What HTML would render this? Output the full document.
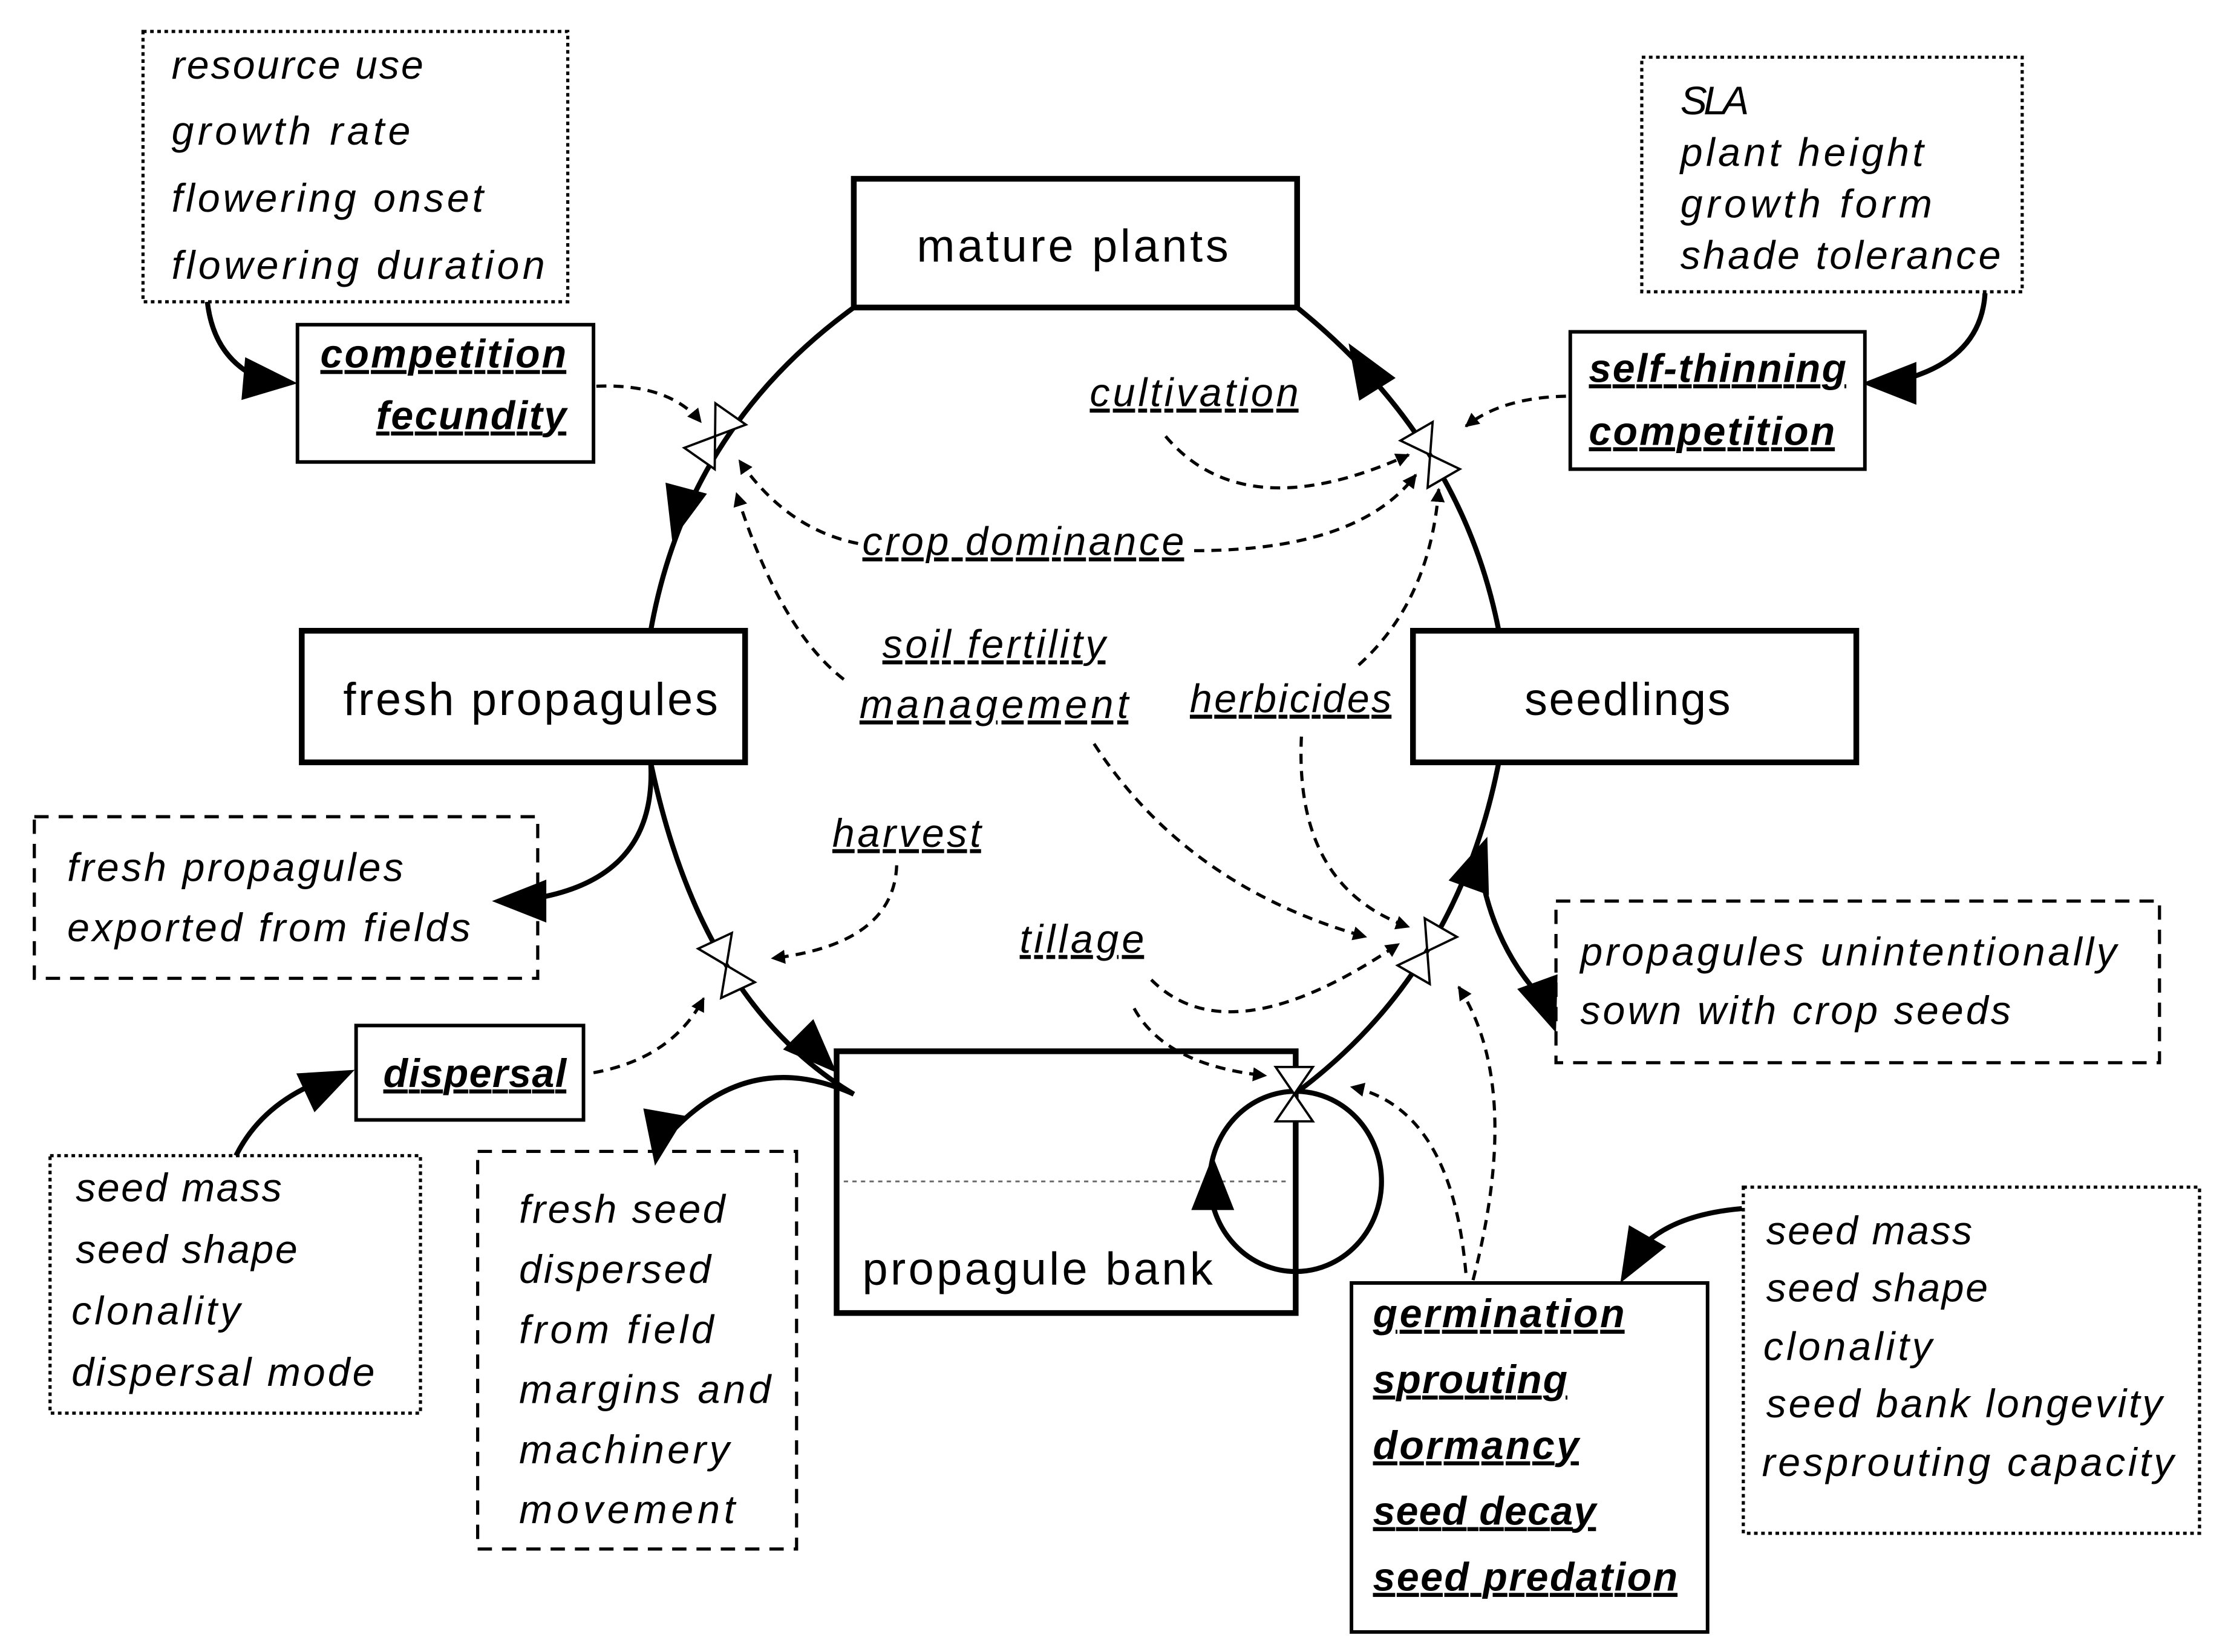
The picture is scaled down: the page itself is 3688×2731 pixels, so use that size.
<!DOCTYPE html>
<html><head><meta charset="utf-8"><style>
html,body{margin:0;padding:0;background:#fff;}
svg{display:block;}
text{font-family:"Liberation Sans",sans-serif;fill:#000;}
.it{font-style:italic;font-size:28px;}
.b{font-weight:bold;font-style:italic;font-size:28px;text-decoration:underline;}
.u{font-style:italic;font-size:28px;text-decoration:underline;}
.box{font-size:32px;}
</style></head><body>
<svg width="3688" height="2731" viewBox="0 0 1560 1155" preserveAspectRatio="none" xmlns="http://www.w3.org/2000/svg">
<defs>
<marker id="m" viewBox="0 0 10 10" refX="9" refY="5" markerWidth="4.5" markerHeight="4.5" orient="auto"><path d="M0,0 L10,5 L0,10 z" fill="#000"/></marker>
<g id="tri"><polygon points="0,0 -38,-15 -38,15" fill="#000"/></g>
<g id="valve"><polygon points="-13,-19 13,-19 0,0" fill="#fff" stroke="#000" stroke-width="1.6"/><polygon points="-13,19 13,19 0,0" fill="#fff" stroke="#000" stroke-width="1.6"/></g>
</defs>
<rect width="1560" height="1155" fill="#fff"/>

<g fill="none" stroke="#000" stroke-width="3.5">
<path d="M597,215 Q480,300 455,441"/>
<path d="M455,533 Q490,701 597,765"/>
<path d="M905,765 Q1019,681 1048,533"/>
<path d="M1048,441 Q1022,308 907,215"/>
<path d="M145,211 Q150,255 190,268"/>
<path d="M1388,205 Q1385,255 1320,268"/>
<path d="M165,808 Q185,768 235,752"/>
<path d="M455,533 Q460,620 360,630"/>
<path d="M597,765 Q520,730 462,800"/>
<path d="M1033,592 Q1040,660 1082,702"/>
<path d="M1218,845 Q1160,850 1140,882"/>
</g>
<use href="#tri" transform="translate(470,378) rotate(105)"/>
<use href="#tri" transform="translate(943,240) rotate(-122)"/>
<use href="#tri" transform="translate(585,750) rotate(45)"/>
<use href="#tri" transform="translate(1040,585) rotate(-70)"/>
<use href="#tri" transform="translate(208,268) rotate(5)"/>
<use href="#tri" transform="translate(1302,268) rotate(180)"/>
<use href="#tri" transform="translate(248,748) rotate(-25)"/>
<use href="#tri" transform="translate(344,630) rotate(180)"/>
<use href="#tri" transform="translate(458,815) rotate(100)"/>
<use href="#tri" transform="translate(1088,722) rotate(70)"/>
<use href="#tri" transform="translate(1133,897) rotate(120)"/>

<use href="#valve" transform="translate(500,305) rotate(35)"/>
<use href="#valve" transform="translate(1000,318) rotate(-30)"/>
<use href="#valve" transform="translate(508,675) rotate(-25)"/>
<use href="#valve" transform="translate(998,665) rotate(30)"/>

<g fill="none" stroke="#000" stroke-width="2.2" stroke-dasharray="7,5" marker-end="url(#m)">
<path d="M417,270 Q468,268 490,295"/>
<path d="M1095,277 Q1050,278 1025,298"/>
<path d="M815,305 Q870,370 985,318"/>
<path d="M600,380 Q550,370 517,322"/>
<path d="M835,385 Q950,385 990,332"/>
<path d="M590,475 Q545,440 515,345"/>
<path d="M765,520 Q830,620 955,655"/>
<path d="M950,465 Q1000,420 1006,342"/>
<path d="M910,515 Q905,620 985,648"/>
<path d="M627,605 Q625,660 540,670"/>
<path d="M415,750 Q470,740 492,698"/>
<path d="M805,685 Q860,740 978,660"/>
<path d="M793,705 Q815,745 885,752"/>
<path d="M1030,895 Q1065,760 1020,690"/>
<path d="M1025,890 Q1015,775 945,760"/>
</g>

<g fill="#fff" stroke="#000" stroke-width="4">
<rect x="597" y="125" width="310" height="90"/>
<rect x="211" y="441" width="310" height="92"/>
<rect x="988" y="441" width="310" height="92"/>
<rect x="585" y="735" width="321" height="183" fill="none"/>
</g>
<line x1="590" y1="826" x2="902" y2="826" stroke="#666" stroke-width="1.2" stroke-dasharray="3,3"/>
<ellipse cx="906" cy="826" rx="60" ry="63" fill="none" stroke="#000" stroke-width="3.5"/>
<use href="#tri" transform="translate(848,808) rotate(-90)"/>
<use href="#valve" transform="translate(905,765)"/>

<g fill="#fff" stroke="#000" stroke-width="2.5">
<rect x="208" y="227" width="207" height="96"/>
<rect x="1098" y="232" width="206" height="96"/>
<rect x="249" y="717" width="159" height="66"/>
<rect x="945" y="897" width="249" height="244"/>
</g>
<g fill="none" stroke="#000" stroke-width="2.2" stroke-dasharray="2.5,2.5">
<rect x="100" y="22" width="297" height="189"/>
<rect x="1148" y="40" width="266" height="164"/>
<rect x="35" y="808" width="259" height="180"/>
<rect x="1219" y="830" width="319" height="242"/>
</g>
<g fill="none" stroke="#000" stroke-width="2.2" stroke-dasharray="10,7">
<rect x="24" y="571" width="352" height="113"/>
<rect x="334" y="805" width="223" height="278"/>
<rect x="1088" y="630" width="422" height="113"/>
</g>

<text class="box" x="750" y="183" text-anchor="middle" textLength="218">mature plants</text>
<text class="box" x="371" y="500" text-anchor="middle" textLength="262">fresh propagules</text>
<text class="box" x="1138" y="500" text-anchor="middle" textLength="144">seedlings</text>
<text class="box" x="603" y="898" textLength="245">propagule bank</text>

<text class="it" x="120" y="55" textLength="176">resource use</text>
<text class="it" x="120" y="101" textLength="167">growth rate</text>
<text class="it" x="120" y="148" textLength="218">flowering onset</text>
<text class="it" x="120" y="195" textLength="261">flowering duration</text>

<text class="b" x="224" y="257" textLength="172">competition</text>
<text class="b" x="263" y="300" textLength="133">fecundity</text>

<text class="it" x="1175" y="80" textLength="48">SLA</text>
<text class="it" x="1175" y="116" textLength="170">plant height</text>
<text class="it" x="1175" y="152" textLength="176">growth form</text>
<text class="it" x="1175" y="188" textLength="224">shade tolerance</text>

<text class="b" x="1111" y="267" textLength="180">self-thinning</text>
<text class="b" x="1111" y="311" textLength="172">competition</text>

<text class="u" x="762" y="284" textLength="146">cultivation</text>
<text class="u" x="603" y="388" textLength="225">crop dominance</text>
<text class="u" x="617" y="460" textLength="156">soil fertility</text>
<text class="u" x="601" y="502" textLength="188">management</text>
<text class="u" x="832" y="498" textLength="141">herbicides</text>
<text class="u" x="582" y="592" textLength="104">harvest</text>
<text class="u" x="713" y="666" textLength="87">tillage</text>

<text class="it" x="47" y="616" textLength="235">fresh propagules</text>
<text class="it" x="47" y="658" textLength="282">exported from fields</text>

<text class="it" x="1105" y="675" textLength="375">propagules unintentionally</text>
<text class="it" x="1105" y="716" textLength="301">sown with crop seeds</text>

<text class="b" x="268" y="760" textLength="128">dispersal</text>

<text class="it" x="53" y="840" textLength="144">seed mass</text>
<text class="it" x="53" y="883" textLength="155">seed shape</text>
<text class="it" x="50" y="926" textLength="118">clonality</text>
<text class="it" x="50" y="969" textLength="212">dispersal mode</text>

<text class="it" x="363" y="855" textLength="144">fresh seed</text>
<text class="it" x="363" y="897" textLength="134">dispersed</text>
<text class="it" x="363" y="939" textLength="136">from field</text>
<text class="it" x="363" y="981" textLength="176">margins and</text>
<text class="it" x="363" y="1023" textLength="147">machinery</text>
<text class="it" x="363" y="1065" textLength="151">movement</text>

<text class="b" x="960" y="928" textLength="176">germination</text>
<text class="b" x="960" y="974" textLength="136">sprouting</text>
<text class="b" x="960" y="1020" textLength="144">dormancy</text>
<text class="b" x="960" y="1066" textLength="156">seed decay</text>
<text class="b" x="960" y="1112" textLength="213">seed predation</text>

<text class="it" x="1235" y="870" textLength="144">seed mass</text>
<text class="it" x="1235" y="910" textLength="155">seed shape</text>
<text class="it" x="1233" y="951" textLength="118">clonality</text>
<text class="it" x="1235" y="991" textLength="277">seed bank longevity</text>
<text class="it" x="1232" y="1032" textLength="288">resprouting capacity</text>
</svg>
</body></html>
